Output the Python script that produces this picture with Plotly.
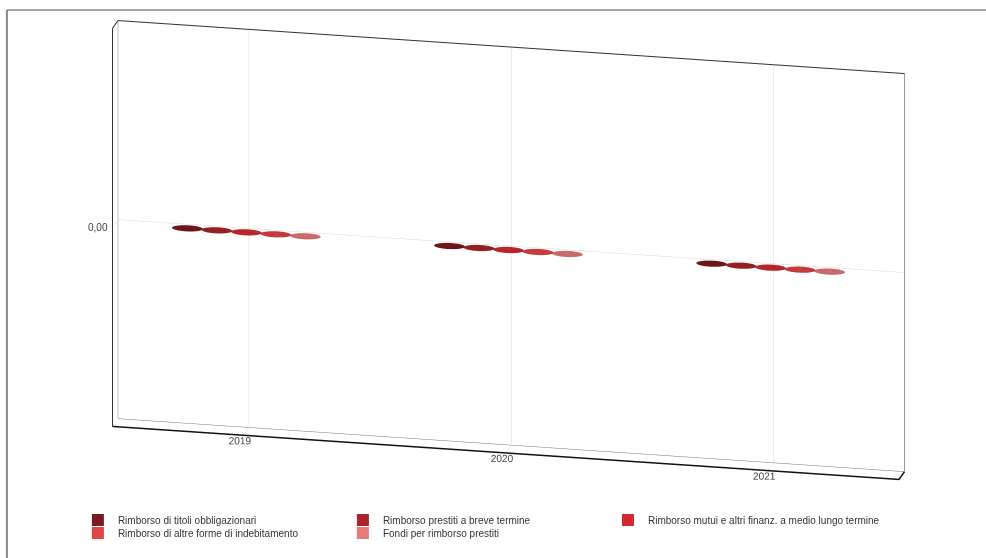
import numpy as np
import plotly.graph_objects as go

# ---- data ----
categories = ["2019", "2020", "2021"]
series_names = [
    "Rimborso di titoli obbligazionari",
    "Rimborso prestiti a breve termine",
    "Rimborso mutui e altri finanz. a medio lungo termine",
    "Rimborso di altre forme di indebitamento",
    "Fondi per rimborso prestiti",
]
val_titoli = [0.0, 0.0, 0.0]
val_breve = [0.0, 0.0, 0.0]
val_mutui = [0.0, 0.0, 0.0]
val_altre = [0.0, 0.0, 0.0]
val_fondi = [0.0, 0.0, 0.0]
series_values = [val_titoli, val_breve, val_mutui, val_altre, val_fondi]
z_ticks = [0.0]
colors = ["#7a1a1f", "#a8262a", "#d42a2f", "#e04548", "#e87a7a"]
legend_groups = ["legend", "legend", "legend3", "legend2", "legend2"]

# ---- geometry settings ----
Z_RANGE = [-1.0, 1.0]
X_RANGE = [0.0, 3.0]
Y_RANGE = [0.0, 1.0]
offsets = [-0.225, -0.1125, 0.0, 0.1125, 0.225]
RX, RY = 0.058, 0.38
NSEG = 40

fig = go.Figure()

ang = np.linspace(0, 2 * np.pi, NSEG, endpoint=False)
for s, (name, vals, col) in enumerate(zip(series_names, series_values, colors)):
    xs, ys, zs, ii, jj, kk = [], [], [], [], [], []
    for c, v in enumerate(vals):
        cx = c + 0.5 + offsets[s]
        cy = 0.5
        base = len(xs)
        xs.append(cx); ys.append(cy); zs.append(v)
        for a in ang:
            xs.append(cx + RX * np.cos(a)); ys.append(cy + RY * np.sin(a)); zs.append(v)
        for k in range(NSEG):
            ii.append(base)
            jj.append(base + 1 + k)
            kk.append(base + 1 + (k + 1) % NSEG)
    fig.add_trace(go.Mesh3d(x=xs, y=ys, z=zs, i=ii, j=jj, k=kk, color=col,
                            flatshading=True, showlegend=False, hoverinfo="skip",
                            lighting=dict(ambient=0.85, diffuse=0.2, specular=0.0)))
    # legend entry
    fig.add_trace(go.Scatter3d(x=[c + 0.5 + offsets[s] for c in range(len(vals))],
                               y=[0.5] * len(vals), z=vals, mode="markers",
                               marker=dict(symbol="square", size=1, color=col),
                               name=name, hoverinfo="skip", legend=legend_groups[s]))

# wall frame edges (decoration)
x0, x1 = X_RANGE
y0, y1 = Y_RANGE
z0, z1 = Z_RANGE
def edge(xv, yv, zv, color, width):
    fig.add_trace(go.Scatter3d(x=xv, y=yv, z=zv, mode="lines",
                               line=dict(color=color, width=width),
                               showlegend=False, hoverinfo="skip"))
edge([x0, x1], [y1, y1], [z1, z1], "#333333", 2)
edge([x1, x1], [y1, y1], [z1, z0], "#999999", 2)
edge([x0, x0, x0], [y0, y0, y1], [z0, z1, z1], "#333333", 2)
edge([x0, x0], [y1, y1], [z0, z1], "#888888", 1)
edge([x0, x1, x1], [y0, y0, y1], [z0, z0, z0], "#111111", 3)
edge([x0, x1], [y1, y1], [z0, z0], "#777777", 1)

tick_font = dict(family="Liberation Sans, Arial", size=11, color="#444")
axis_common = dict(showbackground=True, backgroundcolor="white",
                   gridcolor="#dadada", gridwidth=1, showspikes=False,
                   zeroline=False, showline=False, ticks="", tickangle=0,
                   tickfont=tick_font, title=dict(text=""))
phi = np.radians(12.3)
th = np.radians(18)
R = 0.778
eye = dict(x=R * np.sin(phi) * np.cos(th), y=-R * np.cos(phi) * np.cos(th), z=R * np.sin(th))

# z tick labels placed left of the wall edge (Italian decimal comma)
z_labels = [dict(x=x0, y=y0, z=t, text=f"{t:.2f}".replace(".", ","), showarrow=False,
                 xanchor="right", yanchor="middle", xshift=-3,
                 font=dict(family="Liberation Sans, Arial", size=10, color="#444"))
            for t in z_ticks]

legend_common = dict(orientation="h", xanchor="left", yanchor="top",
                     itemsizing="constant",
                     font=dict(family="Liberation Sans, Arial", size=10, color="#333"),
                     bgcolor="rgba(0,0,0,0)")

SC = 1.61
fig.update_layout(
    width=986, height=558,
    margin=dict(l=0, r=0, t=0, b=0),
    paper_bgcolor="white",
    separators=",.",
    font=dict(family="Liberation Sans, Arial", size=10, color="#333"),
    scene=dict(
        domain=dict(x=[0.036, 0.996], y=[0.104, 1.0]),
        xaxis=dict(range=X_RANGE, tickvals=[0.5, 1.5, 2.5], ticktext=categories, **axis_common),
        yaxis=dict(range=Y_RANGE, showticklabels=False, showgrid=False, **axis_common),
        zaxis=dict(range=Z_RANGE, tickvals=z_ticks, showticklabels=False, **axis_common),
        aspectmode="manual",
        aspectratio=dict(x=2.0 * SC, y=0.064 * SC, z=1.04 * SC),
        camera=dict(eye=eye, center=dict(x=0, y=0, z=0), up=dict(x=0, y=0, z=1),
                    projection=dict(type="orthographic")),
        dragmode=False,
        annotations=z_labels,
    ),
    legend=dict(x=0.079, y=0.094, entrywidth=220, entrywidthmode="pixels", **legend_common),
    legend2=dict(x=0.079, y=0.0706, entrywidth=220, entrywidthmode="pixels", **legend_common),
    legend3=dict(x=0.6166, y=0.094, **legend_common),
    shapes=[
        dict(type="line", xref="paper", yref="paper", x0=0.007, x1=0.007, y0=0, y1=0.982,
             line=dict(color="#888", width=2)),
        dict(type="line", xref="paper", yref="paper", x0=0.007, x1=1.0, y0=0.982, y1=0.982,
             line=dict(color="#888", width=1.5)),
    ],
)

fig.write_html("out.html", config={"displayModeBar": False},
               post_script="document.body.style.margin='0';")
